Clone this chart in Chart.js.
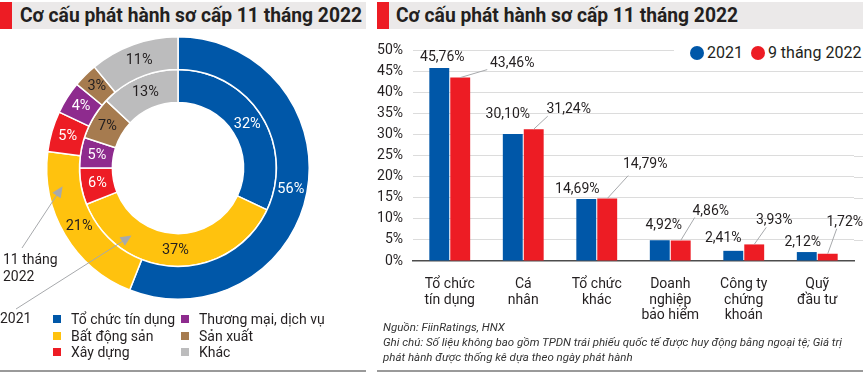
<!DOCTYPE html>
<html>
<head>
<meta charset="utf-8">
<script src="https://cdn.jsdelivr.net/npm/chart.js@4"></script>
<style>
  body { margin: 0; background: #fff; font-family: Roboto, "Liberation Sans", sans-serif; color: #231f20; }
  #wrap { position: relative; width: 863px; height: 372px; overflow: hidden; }
  canvas { position: absolute; top: 0; }
  .hdr { position: absolute; top: 2px; height: 27px; background: #ebe9e9; }
  .hdr .bar { position: absolute; left: 0; top: 0; width: 12px; height: 27px; background: #ed1c24; }
  .hdr .t { position: absolute; left: 20px; top: 1px; font: bold 21px Roboto, sans-serif; white-space: nowrap; color: #231f20; transform-origin: 0 50%; }
  .rule { position: absolute; top: 370px; height: 1.5px; background: #9a9a9a; }
  .txt { position: absolute; font-size: 14px; line-height: 17px; white-space: nowrap; }
  .lg { position: absolute; font-size: 14px; white-space: nowrap; }
  .lg i { display: inline-block; width: 8px; height: 8px; margin-right: 10px; vertical-align: 1px; }
  .dot { display: inline-block; width: 14px; height: 14px; border-radius: 50%; vertical-align: -2px; margin-right: 3px; }
  #barLegend { position: absolute; left: 674px; top: 41px; height: 24px; width: 189px; background: #fff; font-size: 16px; line-height: 24px; padding-left: 16px; box-sizing: border-box; }
  .note { position: absolute; left: 383px; font-size: 11.5px; font-style: italic; white-space: nowrap; color: #333; }
</style>
</head>
<body>
<div id="wrap">
  <canvas id="chart-co-cau" width="370" height="372" style="left:0"></canvas>
  <canvas id="chart-nha-dau-tu" width="493" height="372" style="left:370px"></canvas>

  <div class="hdr" style="left:0; width:366px"><div class="bar"></div><div class="t" style="left:20px">Cơ cấu phát hành sơ cấp 11 tháng 2022</div></div>
  <div class="hdr" style="left:377px; width:486px"><div class="bar"></div><div class="t" style="left:19px">Cơ cấu phát hành sơ cấp 11 tháng 2022</div></div>

  <div class="txt" style="left:3px; top:251px">11 tháng<br>2022</div>
  <div class="txt" style="left:0; top:310px">2021</div>
  <div id="pieLegend"></div>

  <div id="barLegend"><span class="dot" style="background:#0057a8"></span>2021&nbsp;&nbsp;<span class="dot" style="background:#ed1c24"></span>9 tháng 2022</div>

  <div class="note" style="top:320px">Nguồn: FiinRatings, HNX</div>
  <div class="note" style="top:335px">Ghi chú: Số liệu không bao gồm TPDN trái phiếu quốc tế được huy động bằng ngoại tệ; Giá trị</div>
  <div class="note" style="top:350px">phát hành được thống kê dựa theo ngày phát hành</div>

  <div class="rule" style="left:0; width:366px"></div>
  <div class="rule" style="left:377px; width:486px"></div>
</div>

<script>
// Doughnut: ngành phát hành
const nganh = ['Tổ chức tín dụng', 'Bất động sản', 'Xây dựng', 'Thương mại, dịch vụ', 'Sản xuất', 'Khác'];
const mauNganh = ['#0057a8', '#ffc20e', '#ed1c24', '#8e2b8e', '#a67b4f', '#bcbcbd'];
const chuNganh = ['#fff', '#231f20', '#fff', '#fff', '#231f20', '#231f20'];
const tyTrong2022 = [56, 21, 5, 4, 3, 11];   // vòng ngoài: 11 tháng 2022
const tyTrong2021 = [32, 37, 6, 5, 7, 13];   // vòng trong: 2021

// Bar: nhà đầu tư sơ cấp
const nhaDauTu = [['Tổ chức', 'tín dụng'], ['Cá', 'nhân'], ['Tổ chức', 'khác'], ['Doanh', 'nghiệp', 'bảo hiểm'], ['Công ty', 'chứng', 'khoán'], ['Quỹ', 'đầu tư']];
const nam2021 = [45.76, 30.10, 14.69, 4.92, 2.41, 2.12];
const chinThang2022 = [43.46, 31.24, 14.79, 4.86, 3.93, 1.72];
const yTicks = [0, 5, 10, 15, 20, 25, 30, 35, 40, 45, 50];

// Vị trí nhãn (độ lệch so với đỉnh cột)
const nhanXanh = [[3, -10], [-5, -19], [-9, -10], [4, -15], [-10, -12], [-4, -10]];
const nhanDo = [[52, -14], [35, -20], [38, -34], [30, -29], [20, -24], [17, -31]];
const duongDo = [[27, -8], [14, -13], [21, -23], [14, -23], [12, -17], [9, -25]];

const FONT = 'Roboto, "Liberation Sans", sans-serif';
const fmt = v => v.toFixed(2).replace('.', ',') + '%';

// Ép tiêu đề vừa bề rộng ~342px như bản gốc
document.querySelectorAll('.hdr .t').forEach(t => {
    const w = t.getBoundingClientRect().width;
    t.style.transform = 'scaleX(' + (342 / w) + ')';
});

// Chú thích doughnut
(function buildLegend() {
    const box = document.getElementById('pieLegend');
    nganh.forEach((n, i) => {
        const col = Math.floor(i / 3), row = i % 3;
        const d = document.createElement('div');
        d.className = 'lg';
        d.style.left = (col === 0 ? 53 : 181) + 'px';
        d.style.top = (311 + row * 16.5) + 'px';
        d.innerHTML = '<i style="background:' + mauNganh[i] + '"></i>' + n;
        box.appendChild(d);
    });
})();

// Nhãn phần trăm trên lát bánh + mũi tên
const pieLabels = {
    id: 'pieLabels',
    afterDatasetsDraw(chart) {
        const ctx = chart.ctx;
        ctx.save();
        ctx.font = '14.5px ' + FONT;
        ctx.textAlign = 'center';
        ctx.textBaseline = 'middle';
        chart.data.datasets.forEach((ds, di) => {
            chart.getDatasetMeta(di).data.forEach((arc, i) => {
                const p = arc.getCenterPoint();
                ctx.fillStyle = chuNganh[i];
                ctx.fillText(ds.data[i] + '%', p.x, p.y);
            });
        });
        // mũi tên chỉ vòng
        const outer = chart.getDatasetMeta(0).data[0];
        const inner = chart.getDatasetMeta(1).data[0];
        const cx = outer.x, cy = outer.y;
        const arrows = [
            { r: (outer.innerRadius + outer.outerRadius) / 2 + 2, a: 171 * Math.PI / 180, from: [22, 248] },
            { r: (inner.innerRadius + inner.outerRadius) / 2, a: 124.5 * Math.PI / 180, from: [16, 309] }
        ];
        ctx.strokeStyle = '#a7a9ac';
        ctx.fillStyle = '#a7a9ac';
        ctx.lineWidth = 1;
        arrows.forEach(ar => {
            const tx = cx + ar.r * Math.cos(ar.a), ty = cy + ar.r * Math.sin(ar.a);
            const ang = Math.atan2(ty - ar.from[1], tx - ar.from[0]);
            ctx.beginPath();
            ctx.moveTo(ar.from[0], ar.from[1]);
            ctx.lineTo(tx - 8 * Math.cos(ang), ty - 8 * Math.sin(ang));
            ctx.stroke();
            ctx.beginPath();
            ctx.moveTo(tx, ty);
            ctx.lineTo(tx - 11 * Math.cos(ang) + 5 * Math.sin(ang), ty - 11 * Math.sin(ang) - 5 * Math.cos(ang));
            ctx.lineTo(tx - 11 * Math.cos(ang) - 5 * Math.sin(ang), ty - 11 * Math.sin(ang) + 5 * Math.cos(ang));
            ctx.closePath();
            ctx.fill();
        });
        ctx.restore();
    }
};

new Chart(document.getElementById('chart-co-cau'), {
    type: 'doughnut',
    data: {
        labels: nganh,
        datasets: [
            { label: '11 tháng 2022', data: tyTrong2022, backgroundColor: mauNganh, borderColor: '#fff', borderWidth: 1.5 },
            { label: '2021', data: tyTrong2021, backgroundColor: mauNganh, borderColor: '#fff', borderWidth: 1.5 }
        ]
    },
    options: {
        responsive: false,
        animation: false,
        cutout: '50%',
        layout: { padding: { left: 46, right: 60, top: 36, bottom: 72 } },
        plugins: { legend: { display: false }, tooltip: { enabled: false } }
    },
    plugins: [pieLabels]
});

// Nhãn giá trị cột + đường dẫn, kéo dài lưới sang phải
const barLabels = {
    id: 'barLabels',
    beforeDatasetsDraw(chart) {
        const ctx = chart.ctx, y = chart.scales.y, area = chart.chartArea;
        ctx.save();
        ctx.strokeStyle = '#dcdcdc';
        ctx.lineWidth = 1;
        yTicks.slice(1).forEach(t => {
            const py = Math.round(y.getPixelForValue(t)) + 0.5;
            ctx.beginPath();
            ctx.moveTo(area.right, py);
            ctx.lineTo(chart.width, py);
            ctx.stroke();
        });
        ctx.restore();
    },
    afterDatasetsDraw(chart) {
        const ctx = chart.ctx;
        ctx.save();
        ctx.font = '14px ' + FONT;
        ctx.fillStyle = '#231f20';
        ctx.textAlign = 'center';
        ctx.textBaseline = 'middle';
        chart.getDatasetMeta(0).data.forEach((b, i) => {
            ctx.fillText(fmt(nam2021[i]), b.x + nhanXanh[i][0], b.y + nhanXanh[i][1]);
        });
        ctx.strokeStyle = '#a7a9ac';
        ctx.lineWidth = 1;
        chart.getDatasetMeta(1).data.forEach((b, i) => {
            ctx.beginPath();
            ctx.moveTo(b.x, b.y);
            ctx.lineTo(b.x + duongDo[i][0], b.y + duongDo[i][1]);
            ctx.stroke();
            ctx.fillText(fmt(chinThang2022[i]), b.x + nhanDo[i][0], b.y + nhanDo[i][1]);
        });
        ctx.restore();
    }
};

new Chart(document.getElementById('chart-nha-dau-tu'), {
    type: 'bar',
    data: {
        labels: nhaDauTu,
        datasets: [
            { label: '2021', data: nam2021, backgroundColor: '#0057a8' },
            { label: '9 tháng 2022', data: chinThang2022, backgroundColor: '#ed1c24' }
        ]
    },
    options: {
        responsive: false,
        animation: false,
        layout: { padding: { left: 0, right: 9, top: 50, bottom: 0 } },
        datasets: { bar: { categoryPercentage: 0.57, barPercentage: 0.95 } },
        plugins: { legend: { display: false }, tooltip: { enabled: false } },
        scales: {
            x: {
                grid: { display: false },
                border: { color: '#4d4d4d', width: 1.5 },
                ticks: { color: '#231f20', font: { family: FONT, size: 14, lineHeight: 1.1 }, padding: 8, maxRotation: 0, autoSkip: false },
                afterFit(s) { s.height = 111; }
            },
            y: {
                min: 0,
                max: 50,
                afterBuildTicks(s) { s.ticks = yTicks.map(v => ({ value: v })); },
                grid: { color: c => c.tick.value === 0 ? 'rgba(0,0,0,0)' : '#dcdcdc', drawTicks: false },
                border: { display: false },
                ticks: { color: '#231f20', font: { family: FONT, size: 14 }, padding: 10, callback: v => v + '%' },
                afterFit(s) { s.width = 43; }
            }
        }
    },
    plugins: [barLabels]
});
</script>
</body>
</html>
